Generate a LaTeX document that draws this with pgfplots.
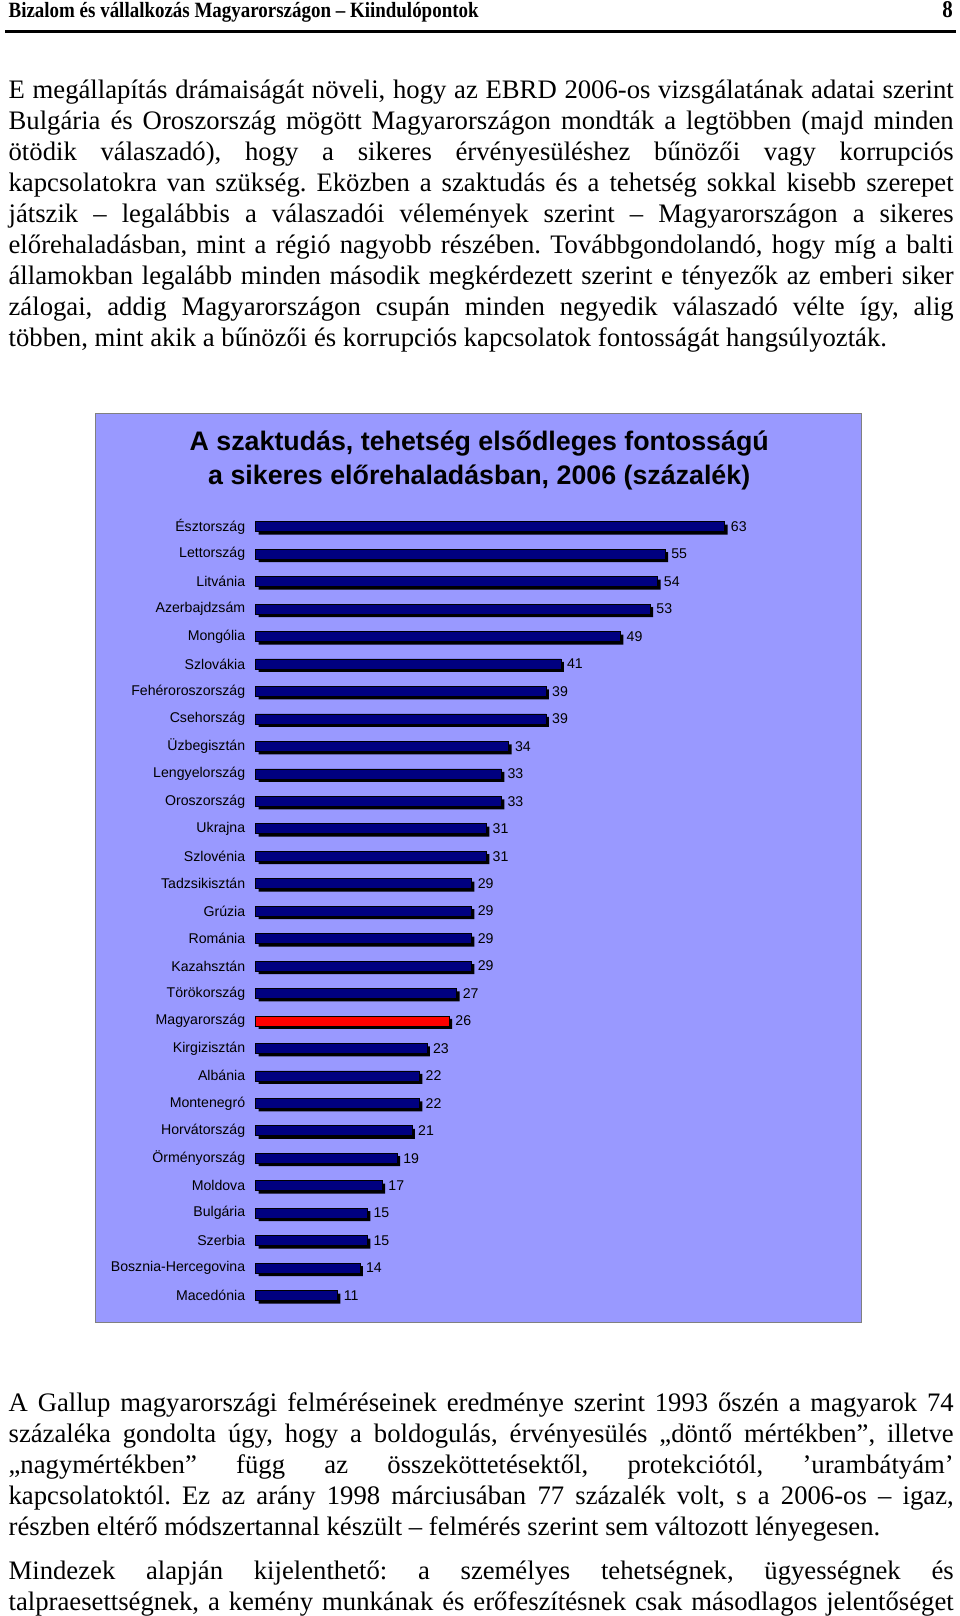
\documentclass[border=0pt]{standalone}
\usepackage{fontspec}
\setmainfont{Liberation Serif}
\newfontfamily\arial{Liberation Sans}
\newfontfamily\headfont[FakeStretch=0.87]{Liberation Serif}
\usepackage{pgfplots}
\pgfplotsset{compat=1.18}
\definecolor{chartbg}{HTML}{9999FF}
\definecolor{navy}{HTML}{000080}
\frenchspacing
\newcommand\bodyfont{\fontsize{13.35}{15.5}\selectfont\hyphenpenalty=10000\exhyphenpenalty=10000\tolerance=9999}

\begin{document}
\begin{tikzpicture}[x=0.5155pt,y=-0.5155pt]
\useasboundingbox (0,0) rectangle (931,1568);
\clip (0,0) rectangle (931,1568);
\path[fill=white] (0,0) rectangle (931,1568);

% page header
\node[anchor=base west, inner sep=0pt, font=\headfont\bfseries\fontsize{10.9}{12}\selectfont] at (8,17) {Bizalom és vállalkozás Magyarországon – Kiindulópontok};
\node[anchor=base east, inner sep=0pt, font=\headfont\bfseries\fontsize{12}{12}\selectfont] at (925,17) {8};
\fill (5,29) rectangle (928,32);

% text above the chart
\node[anchor=base west, inner sep=0pt, text width=472.7pt, align=justify, font=\bodyfont] at (8,96) {%
E megállapítás drámaiságát növeli, hogy az EBRD 2006-os vizsgálatának adatai szerint\linebreak
Bulgária és Oroszország mögött Magyarországon mondták a legtöbben (majd minden\linebreak
ötödik válaszadó), hogy a sikeres érvényesüléshez bűnözői vagy korrupciós\linebreak
kapcsolatokra van szükség. Eközben a szaktudás és a tehetség sokkal kisebb szerepet\linebreak
játszik – legalábbis a válaszadói vélemények szerint – Magyarországon a sikeres\linebreak
előrehaladásban, mint a régió nagyobb részében. Továbbgondolandó, hogy míg a balti\linebreak
államokban legalább minden második megkérdezett szerint e tényezők az emberi siker\linebreak
zálogai, addig Magyarországon csupán minden negyedik válaszadó vélte így, alig\linebreak
többen, mint akik a bűnözői és korrupciós kapcsolatok fontosságát hangsúlyozták.};

% chart frame and title
\draw[draw=gray, fill=chartbg] (93,401) rectangle (836,1283);
\node[anchor=base, inner sep=0pt, font=\arial\bfseries\fontsize{13.4}{15}\selectfont] at (465,437) {A szaktudás, tehetség elsődleges fontosságú};
\node[anchor=base, inner sep=0pt, font=\arial\bfseries\fontsize{13.4}{15}\selectfont] at (465,470) {a sikeres előrehaladásban, 2006 (százalék)};

\begin{axis}[
    at={(127.84pt,-256.57pt)}, anchor=north west,
    scale only axis, width=234.6pt, height=398.3pt,
    xbar, bar shift=0pt, bar width=5pt,
    xmin=0, xmax=63, ymin=0.5, ymax=29.5, y dir=reverse,
    hide x axis, axis y line*=left, y axis line style={draw=none},
    major tick length=0pt,
    /pgf/number format/assume math mode=true,
    ytick={1,...,29},
    yticklabels={Észtország,Lettország,Litvánia,Azerbajdzsám,Mongólia,Szlovákia,Fehéroroszország,Csehország,Üzbegisztán,Lengyelország,Oroszország,Ukrajna,Szlovénia,Tadzsikisztán,Grúzia,Románia,Kazahsztán,Törökország,Magyarország,Kirgizisztán,Albánia,Montenegró,Horvátország,Örményország,Moldova,Bulgária,Szerbia,Bosznia-Hercegovina,Macedónia},
    yticklabel style={font=\arial\fontsize{7.07}{8}\selectfont, inner sep=0pt, xshift=-5pt},
    nodes near coords style={font=\arial\fontsize{7.07}{8}\selectfont, anchor=west, inner sep=0pt, xshift=3pt},
    clip=false,
]
% shadow behind every bar
\addplot[fill=black, draw=none, xshift=1.5pt, yshift=-1.5pt] coordinates {
    (63,1) (55,2) (54,3) (53,4) (49,5) (41,6) (39,7) (39,8) (34,9) (33,10)
    (33,11) (31,12) (31,13) (29,14) (29,15) (29,16) (29,17) (27,18) (26,19) (23,20)
    (22,21) (22,22) (21,23) (19,24) (17,25) (15,26) (15,27) (14,28) (11,29)
};
% other countries
\addplot[fill=navy, draw=black, line width=0.3pt, nodes near coords] coordinates {
    (63,1) (55,2) (54,3) (53,4) (49,5) (41,6) (39,7) (39,8) (34,9) (33,10)
    (33,11) (31,12) (31,13) (29,14) (29,15) (29,16) (29,17) (27,18) (23,20)
    (22,21) (22,22) (21,23) (19,24) (17,25) (15,26) (15,27) (14,28) (11,29)
};
% Hungary highlighted
\addplot[fill=red, draw=black, line width=0.3pt, nodes near coords] coordinates {(26,19)};
\end{axis}

% text below the chart
\node[anchor=base west, inner sep=0pt, text width=472.7pt, align=justify, font=\bodyfont] at (8,1370) {%
A Gallup magyarországi felméréseinek eredménye szerint 1993 őszén a magyarok 74\linebreak
százaléka gondolta úgy, hogy a boldogulás, érvényesülés „döntő mértékben”, illetve\linebreak
„nagymértékben” függ az összeköttetésektől, protekciótól, ’urambátyám’\linebreak
kapcsolatoktól. Ez az arány 1998 márciusában 77 százalék volt, s a 2006-os – igaz,\linebreak
részben eltérő módszertannal készült – felmérés szerint sem változott lényegesen.};

\node[anchor=base west, inner sep=0pt, text width=472.7pt, align=justify, font=\bodyfont] at (8,1533) {%
Mindezek alapján kijelenthető: a személyes tehetségnek, ügyességnek és\linebreak
talpraesettségnek, a kemény munkának és erőfeszítésnek csak másodlagos jelentőséget\linebreak\mbox{}};
\end{tikzpicture}
\end{document}
